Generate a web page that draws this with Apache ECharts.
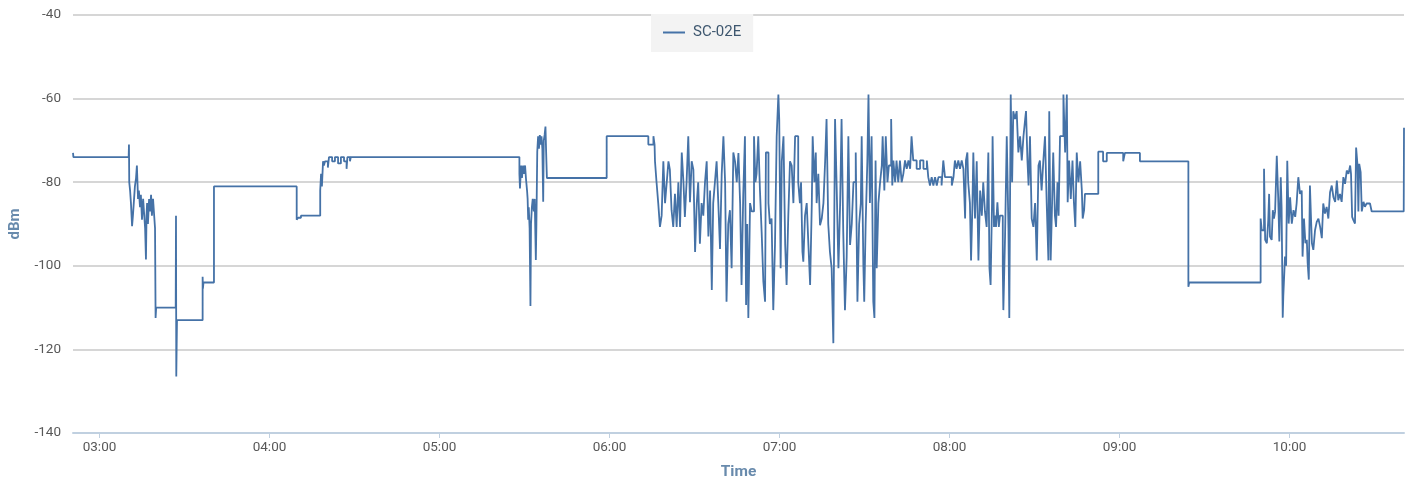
<!DOCTYPE html>
<html><head><meta charset="utf-8">
<script src="https://cdn.jsdelivr.net/npm/echarts@6/dist/echarts.min.js"></script>
<style>html,body{margin:0;padding:0;background:#fff}#c{width:1413px;height:478px}</style>
</head><body><div id="c"></div>
<script>
const seriesName = 'SC-02E';
const xAxisTitle = 'Time';
const yAxisTitle = 'dBm';
const yMin = -140, yMax = -40, yStep = 20;

// time of each sample, in minutes after midnight
const minutesOfDay = [
170.65,170.8,190.3,190.4,190.5,190.8,191.1,191.5,191.8,192.2,192.5,192.9,193.2,193.4,193.6,193.9,194.3,194.6,195.0,195.4,
195.7,196.1,196.4,196.6,196.8,197.1,197.5,197.8,198.2,198.5,198.9,199.2,199.6,199.8,200.0,206.9,207.0,207.1,207.35,216.4,
216.5,216.7,220.4,249.6,250.1,251.1,257.9,258.2,258.5,258.9,259.2,259.6,260.6,261.0,262.1,263.1,264.2,265.2,266.3,267.2,
267.5,268.4,268.7,
328.2,328.4,328.8,329.1,329.5,329.8,330.2,330.5,330.9,331.1,331.3,331.5,331.8,332.1,332.3,332.6,332.9,333.3,333.6,334.0,
334.2,334.5,334.8,335.1,335.4,335.7,336.0,336.3,336.6,336.8,337.1,337.4,337.6,337.9,359.0,373.7,375.5,375.9,
376.05,376.6,377.2,377.8,378.4,379.0,379.6,380.2,380.8,381.3,381.9,382.5,383.1,383.7,384.3,384.9,385.5,386.1,386.6,387.2,
387.8,388.4,389.0,389.6,390.2,390.8,391.3,391.9,392.5,393.1,393.7,394.3,394.9,395.5,396.1,396.6,397.2,397.8,398.4,399.0,
399.6,400.2,400.8,401.3,401.9,402.5,403.1,403.7,404.3,404.9,405.5,406.1,406.6,407.2,407.8,408.2,408.6,409.0,409.6,410.2,
411.0,411.5,411.9,412.5,413.1,413.7,414.3,414.9,415.2,416.1,416.6,417.2,417.8,418.4,419.0,419.6,419.9,420.4,420.8,421.4,
422.0,422.5,423.1,423.7,424.3,424.9,425.5,
426.6,427.2,427.6,428.1,428.4,429.0,429.6,430.2,430.8,431.4,431.7,432.3,432.8,433.1,433.7,434.3,434.9,435.5,436.1,436.6,
437.2,437.8,438.4,439.0,439.6,440.2,440.8,441.4,441.9,442.5,443.1,443.7,444.3,444.9,445.5,446.1,446.9,447.5,448.1,448.7,
449.0,449.6,449.9,450.4,451.0,451.4,451.9,452.5,453.1,453.5,453.9,454.3,454.9,455.5,456.1,456.4,457.0,457.5,458.1,458.6,
459.4,459.8,460.2,460.8,461.3,461.9,462.5,463.1,463.7,464.3,464.9,465.5,466.1,466.6,467.2,468.4,469.6,470.8,472.0,472.5,
473.1,473.7,474.3,474.9,475.5,476.1,477.2,477.8,478.4,479.6,480.8,481.4,
481.9,482.5,483.1,483.7,484.3,484.9,485.5,485.8,486.3,486.6,487.2,487.6,488.1,488.4,489.0,489.6,490.2,490.8,491.4,491.9,
492.5,493.1,493.7,494.1,494.5,495.0,495.2,495.7,496.1,496.4,496.9,497.4,497.8,498.4,498.8,499.0,499.6,500.2,500.8,501.1,
501.6,502.1,502.5,503.1,503.7,504.3,504.9,505.5,506.1,506.7,507.0,507.5,507.9,508.4,509.0,509.6,510.2,510.8,511.4,511.9,
512.5,513.1,513.7,514.3,514.9,515.2,515.7,516.2,516.6,517.2,517.6,518.1,518.5,519.0,519.6,520.2,520.8,521.4,521.7,522.2,
522.8,523.4,523.9,524.4,524.9,525.5,526.1,526.7,527.0,527.5,527.8,
532.5,534.2,535.5,541.3,541.9,547.2,564.3,564.6,
589.8,590.2,591.0,591.4,592.0,592.5,592.8,593.1,593.7,594.1,594.5,594.9,595.5,596.0,596.4,596.9,597.2,597.6,597.8,598.2,
598.4,598.8,599.2,599.7,600.2,600.8,601.4,602.0,602.5,603.1,603.7,604.3,604.6,605.1,605.6,606.1,606.4,606.8,607.2,607.6,
607.9,608.4,609.0,609.6,610.2,610.8,611.4,611.9,612.5,613.1,613.7,614.3,614.9,615.5,616.1,616.7,617.2,617.8,618.4,619.0,
619.6,620.2,620.8,621.4,621.7,622.1,622.5,623.1,623.5,624.0,624.3,624.6,625.1,625.5,626.1,626.6,627.2,628.4,629.0,640.3,
640.4
];

// signal level in dBm at each sample
const dbm = [
-73,-74,-74,-71,-80,-82,-85,-90.5,-88,-84,-81,-79,-76,-80,-84,-82,-86,-83,-89,-84,
-87,-91,-98.5,-88,-85,-90,-84,-87,-83,-88,-84,-87,-91,-112.5,-110,-110,-88,-126.5,-113,-102.6,
-105.5,-104,-81,-89,-88.5,-88,-82,-78,-81,-75,-76,-75,-76.5,-74,-75,-74,-75.5,-74,-75,-76.8,
-74,-75,-74,
-78,-81.5,-76,-79,-76,-78,-76,-79,-82,-84,-89,-86,-91,-109.6,-90,-86,-84,-87,-84,-98.6,
-90,-72.7,-69,-72,-68.7,-71,-69,-72,-84.7,-70,-68.7,-66.7,-72,-79,-69,-71,-69,-71,
-75,-80,-85,-90.7,-88,-75,-85,-80,-75,-77,-86.7,-90.7,-82.8,-90.7,-80,-90.7,-72.9,-80,-88.3,-80,
-69,-84.8,-75,-77,-96.7,-85,-80,-94.7,-85,-88,-80,-75,-93,-82,-105.8,-85,-80,-75,-85,-96,
-78,-69,-80,-108.6,-90,-86.7,-100.6,-72.9,-75,-80,-73,-85,-104.6,-83,-69,-109.4,-90,-112.5,-85,-87,
-69,-80,-78,-69,-82,-92,-103.8,-108.6,-72.9,-85,-90,-88.7,-110.6,-95,-69,-59,-65,-100.6,-75,-69,
-95,-104.6,-88,-75,-76,-85,-69,
-80,-85,-80,-96.7,-99,-88,-85,-95,-104.6,-85,-69,-80,-72.9,-85,-78,-90.3,-88.7,-85,-75,-64.9,
-90,-96.7,-100.6,-118.5,-64.9,-82,-100.6,-85,-64.9,-92,-110.6,-98,-69,-95,-90,-80,-72.9,-108.6,-90,-85,
-69,-100,-108.6,-90,-75,-59,-85,-69,-108.6,-112.5,-74.8,-100.6,-85,-80,-76,-69,-82,-69,-80,-76,
-64.9,-80.8,-74.8,-80,-74.8,-80,-74.8,-80,-78,-74.8,-76.8,-74.8,-76.8,-69,-74.8,-76.8,-74.8,-76.8,-74.8,-78.8,
-80.8,-78.8,-80.8,-78.8,-80.8,-78.8,-80.8,-74.8,-78.8,-78.8,-80.8,-78.8,
-74.8,-76.8,-74.8,-76.8,-74.8,-76.8,-88.7,-74.8,-72.9,-80,-85,-98.7,-85,-72.9,-88.7,-75,-98.7,-82,-88,-80,
-87,-90.7,-72.9,-100.6,-104.6,-85,-69,-90.7,-88,-90.7,-84.8,-90.7,-88,-88,-100.6,-110.6,-93,-69,-91,-112.5,
-59,-80,-63,-64.9,-63,-72.9,-69,-74.8,-69,-64.9,-63,-74.8,-80.8,-69,-88.7,-90.7,-85,-98.7,-76,-74.8,
-82,-75,-69,-85,-98.7,-63,-98.7,-85,-72.9,-88,-90.7,-80,-88,-69,-69,-59,-72.9,-59,-84.8,-74.8,
-84,-74.8,-84.8,-90.7,-72.9,-80,-75,-82,-88.7,-86.7,-82.8,
-72.7,-75,-73,-75,-73,-75,-105,-104,
-88.7,-91.5,-76.8,-93.8,-94.6,-89,-82.8,-93,-93.8,-86.7,-88.7,-87.1,-73.7,-83.6,-94.2,-78.8,-86,-112.4,-107.3,-101,
-97.8,-100,-74.9,-89.9,-83.6,-89.9,-86.7,-88.3,-85.1,-78.8,-82.8,-82,-97.8,-88.7,-94.6,-93.8,-99.4,-103.3,-80.8,-89,
-94.6,-96.2,-91.5,-89.5,-88.7,-90.7,-93.4,-85.1,-87.5,-85.9,-88.7,-82.4,-80.8,-83.6,-84.7,-79.6,-84.3,-82.8,-84.7,-78.8,
-80.4,-77.2,-78,-76,-78,-88.3,-89,-89.9,-71.7,-76,-87,-75.6,-77.6,-87,-84.7,-85.9,-85.1,-85.1,-87,-87,
-67
];

const FONT = "Roboto,'Liberation Sans',sans-serif";
const base = new Date(2013, 0, 1, 0, 0, 0).getTime();
const points = minutesOfDay.map((m, i) => [base + Math.round(m * 60000), dbm[i]]);

const chart = echarts.init(document.getElementById('c'), null, {renderer: 'canvas'});
chart.setOption({
  animation: false,
  backgroundColor: '#ffffff',
  grid: {left: 73, right: 9, top: 15, bottom: 45, containLabel: false, outerBoundsMode: 'none'},
  legend: {
    show: true,
    left: 651, top: 14, right: 'auto', bottom: 'auto',
    orient: 'horizontal',
    backgroundColor: '#f3f3f3',
    padding: [11, 12, 12, 12],
    icon: 'rect',
    itemWidth: 22, itemHeight: 2, itemGap: 8,
    z: 10,
    textStyle: {color: '#3E576F', fontSize: 15, fontFamily: FONT, padding: [0, 0, 0, 3]},
    data: [seriesName]
  },
  xAxis: {
    type: 'time',
    min: 'dataMin', max: 'dataMax',
    minInterval: 3600000, maxInterval: 3600000,
    name: xAxisTitle, nameLocation: 'middle', nameGap: 31,
    nameTextStyle: {color: '#4d759e', fontWeight: 'bold', fontSize: 15.5, fontFamily: FONT, opacity: 0.85},
    axisLine: {lineStyle: {color: '#C0D0E0', width: 2}},
    axisTick: {show: true, length: 5, lineStyle: {color: '#C0D0E0', width: 1}},
    axisLabel: {color: '#585858', fontSize: 13.5, fontFamily: FONT, margin: 8,
      formatter: v => echarts.time.format(v, '{HH}:{mm}', false)},
    splitLine: {show: false}
  },
  yAxis: {
    type: 'value', min: yMin, max: yMax, interval: yStep,
    name: yAxisTitle, nameLocation: 'middle', nameGap: 50, nameRotate: 90,
    nameTextStyle: {color: '#4d759e', fontWeight: 'bold', fontSize: 15, fontFamily: FONT, opacity: 0.85},
    axisLine: {show: false}, axisTick: {show: false},
    axisLabel: {color: '#585858', fontSize: 13.5, fontFamily: FONT, margin: 12},
    splitLine: {lineStyle: {color: '#C8C8C8', width: 1.5}}
  },
  series: [{
    name: seriesName, type: 'line', step: 'end',
    data: points, symbol: 'none', showSymbol: false,
    lineStyle: {color: '#4572A7', width: 1.8},
    itemStyle: {color: '#4572A7'}
  }]
});
</script></body></html>
